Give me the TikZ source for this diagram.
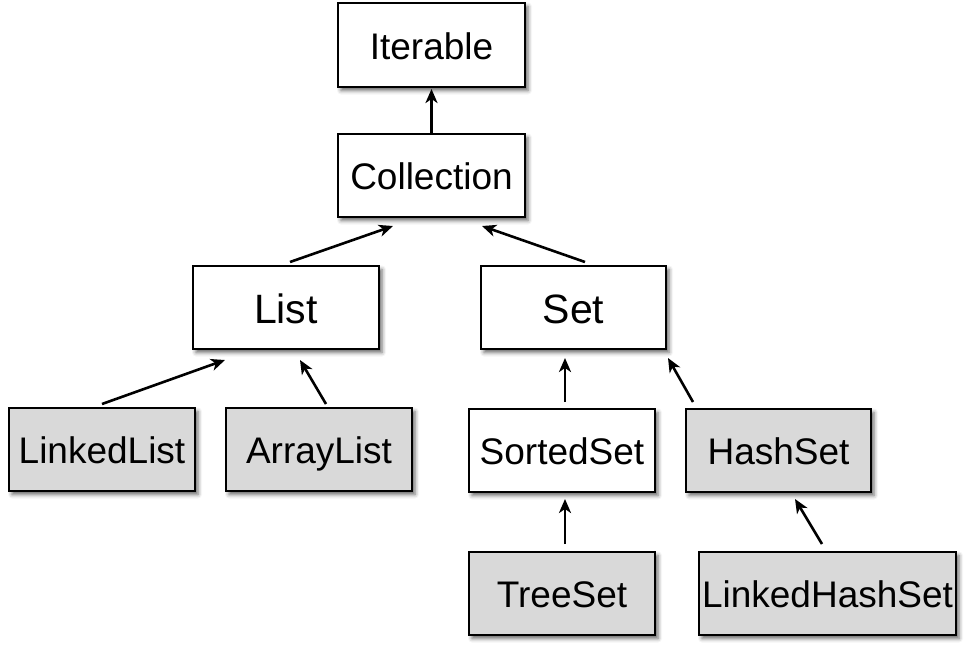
\documentclass[tikz,border=0pt]{standalone}
\usepackage{fontspec}
\setmainfont{Liberation Sans}
\usetikzlibrary{arrows.meta,calc,shadows.blur}
\definecolor{classgray}{gray}{0.85}
\tikzset{
  typebox/.style={draw=black, line width=2pt, fill=white, inner sep=0pt,
    minimum width=186pt, minimum height=83pt,
    text height=28pt, text depth=0pt,
    font=\fontsize{37}{40}\selectfont,
    blur shadow={shadow xshift=3pt, shadow yshift=-3.5pt, shadow blur radius=4pt, shadow opacity=60}},
  bigbox/.style={typebox, text height=31pt, font=\fontsize{41}{44}\selectfont},
  classbox/.style={typebox, fill=classgray},
  inherits/.style={line width=2.6pt, -{Stealth[length=14pt, width=12pt, inset=4pt]}}
}
\begin{document}
\begin{tikzpicture}[x=1pt, y=-1pt]
  \useasboundingbox (0,0) rectangle (967,649);

  % interfaces
  \node[typebox, minimum width=187pt, minimum height=84pt] (iter) at (431.5,45) {Iterable};
  \node[typebox, minimum width=187pt] (coll) at (431.5,175.5) {Collection};
  \node[bigbox] (list) at (286,307.5) {List};
  \node[bigbox, minimum width=185pt] (set) at (573.5,307.5) {Set};
  \node[typebox] (sorted) at (562,450.5) {SortedSet};

  % concrete classes
  \node[classbox] (linked) at (102,449.5) {LinkedList};
  \node[classbox] (array) at (319,449.5) {ArrayList};
  \node[classbox, minimum width=185pt] (hash) at (778.5,450.5) {HashSet};
  \node[classbox] (tree) at (562,593.5) {TreeSet};
  \node[classbox, minimum width=257pt] (lhash) at (827.5,593.5) {LinkedHashSet};

  % inheritance arrows
  \draw[inherits] (coll.north) -- ($(iter.south)+(0,1)$);
  \draw[inherits] ($(list.north)+(4,-3)$) -- ($(coll.south)+(-38.5,8)$);
  \draw[inherits] ($(set.north)+(11.5,-3)$) -- ($(coll.south)+(50.5,8)$);
  \draw[inherits] ($(linked.north)+(0,-3)$) -- ($(list.south)+(-61,10)$);
  \draw[inherits] ($(array.north)+(7,-3)$) -- ($(list.south)+(14,10)$);
  \draw[inherits] ($(sorted.north)+(3,-6)$) -- ($(set.south)+(-8.5,8)$);
  \draw[inherits] ($(hash.north west)+(8,-6)$) -- ($(set.south east)+(1,8)$);
  \draw[inherits] ($(tree.north)+(3,-7)$) -- ($(sorted.south)+(3,6)$);
  \draw[inherits] ($(lhash.north)+(-5.5,-7)$) -- ($(hash.south)+(16.5,6)$);
\end{tikzpicture}
\end{document}
